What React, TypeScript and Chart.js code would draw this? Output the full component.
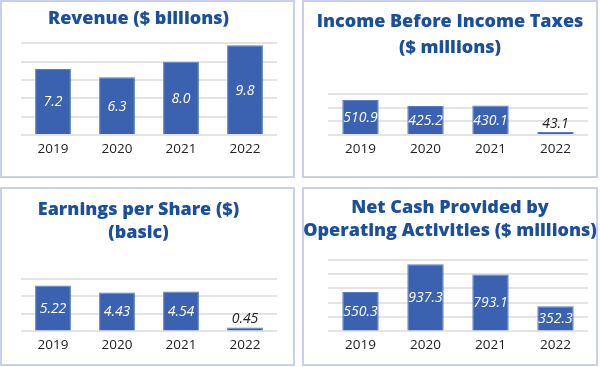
import React, { useEffect, useRef } from "react";
import { Chart, registerables } from "chart.js";

Chart.register(...registerables);

const years = ["2019", "2020", "2021", "2022"];
const revenue = [7.2, 6.3, 8.0, 9.8];
const incomeBeforeTaxes = [510.9, 425.2, 430.1, 43.1];
const eps = [5.22, 4.43, 4.54, 0.45];
const netCash = [550.3, 937.3, 793.1, 352.3];

const titleRevenue = ["Revenue ($ billions)"];
const titleIncome = ["Income Before Income Taxes", "($ millions)"];
const titleEps = ["Earnings per Share ($)", "(basic)"];
const titleCash = ["Net Cash Provided by", "Operating Activities ($ millions)"];

const FONT = "'Open Sans', 'DejaVu Sans', sans-serif";
const BAR = "#3a62b0";
const BAR_EDGE = "#5a7ec6";
const TITLE = "#1a4e9f";

const labelPlugin = {
  id: "barLabels",
  afterDatasetsDraw(chart: any) {
    const decimals = chart.options.plugins.barLabels?.decimals ?? 1;
    const ctx = chart.ctx;
    const meta = chart.getDatasetMeta(0);
    const data = chart.data.datasets[0].data as number[];
    ctx.save();
    ctx.font = `italic 14px ${FONT}`;
    ctx.textAlign = "center";
    meta.data.forEach((el: any, i: number) => {
      const { x, y, base } = el.getProps(["x", "y", "base"], true);
      const h = base - y;
      const txt = Number(data[i]).toFixed(decimals);
      if (h > 18) {
        ctx.fillStyle = "#ffffff";
        ctx.textBaseline = "middle";
        ctx.fillText(txt, x, (y + base) / 2 + 1);
      } else {
        ctx.fillStyle = "#222222";
        ctx.textBaseline = "bottom";
        ctx.fillText(txt, x, y - 1);
      }
    });
    ctx.restore();
  },
};

type PanelCfg = {
  left: number;
  top: number;
  width: number;
  height: number;
  title: string[];
  data: number[];
  max: number;
  step: number;
  decimals: number;
  titleLineHeight: number;
  titleTop: number;
  titleBottom: number;
  padLeft: number;
  padRight: number;
  padBottom: number;
};

function BarPanel({ cfg }: { cfg: PanelCfg }) {
  const ref = useRef<HTMLCanvasElement | null>(null);
  useEffect(() => {
    if (!ref.current) return;
    const chart = new Chart(ref.current, {
      type: "bar",
      data: {
        labels: years,
        datasets: [
          {
            data: cfg.data,
            backgroundColor: BAR,
            borderColor: BAR_EDGE,
            borderWidth: 1,
            categoryPercentage: 1,
            barPercentage: 0.56,
          },
        ],
      },
      options: {
        responsive: false,
        animation: false,
        layout: {
          padding: { left: 0, right: 0, top: 0, bottom: cfg.padBottom },
        },
        plugins: {
          legend: { display: false },
          tooltip: { enabled: false },
          title: {
            display: true,
            text: cfg.title,
            color: TITLE,
            font: { family: FONT, size: 18, weight: "800", lineHeight: cfg.titleLineHeight },
            padding: { top: cfg.titleTop, bottom: cfg.titleBottom },
          },
          barLabels: { decimals: cfg.decimals },
        } as any,
        scales: {
          x: {
            grid: { display: false, drawTicks: false },
            border: { display: false },
            ticks: { color: "#222222", font: { family: FONT, size: 13.5 }, padding: 6 },
          },
          y: {
            min: 0,
            max: cfg.max,
            ticks: { display: false, stepSize: cfg.step },
            grid: { color: "#e4e4e4", lineWidth: 2, drawTicks: false },
            border: { display: false },
            afterFit: (s: any) => {
              s.width = cfg.padLeft;
            },
          },
          yRight: {
            position: "right",
            ticks: { display: false },
            grid: { display: false, drawTicks: false },
            border: { display: false },
            afterFit: (s: any) => {
              s.width = cfg.padRight;
            },
          },
        },
      },
      plugins: [labelPlugin],
    });
    return () => chart.destroy();
  }, [cfg]);
  return (
    <canvas
      ref={ref}
      width={cfg.width}
      height={cfg.height}
      style={{ position: "absolute", left: cfg.left, top: cfg.top, width: cfg.width, height: cfg.height }}
    />
  );
}

const panels: PanelCfg[] = [
  {
    left: 0, top: 0, width: 277, height: 178, title: titleRevenue, data: revenue, max: 10, step: 2, decimals: 1,
    titleLineHeight: 1.2, titleTop: 8.5, titleBottom: 13.2, padLeft: 21, padRight: 0, padBottom: 14.8,
  },
  {
    left: 302, top: 0, width: 296, height: 178, title: titleIncome, data: incomeBeforeTaxes, max: 600, step: 200, decimals: 1,
    titleLineHeight: 1.478, titleTop: 8.4, titleBottom: 32.4, padLeft: 26, padRight: 10, padBottom: 14.8,
  },
  {
    left: 0, top: 187, width: 277, height: 179, title: titleEps, data: eps, max: 6, step: 2, decimals: 2,
    titleLineHeight: 1.294, titleTop: 11.05, titleBottom: 34.05, padLeft: 21, padRight: 0, padBottom: 6.4,
  },
  {
    left: 302, top: 187, width: 296, height: 179, title: titleCash, data: netCash, max: 1000, step: 200, decimals: 1,
    titleLineHeight: 1.294, titleTop: 9.35, titleBottom: 16.75, padLeft: 26, padRight: 10, padBottom: 6.4,
  },
];

const boxes = [
  { left: 0, top: 0, width: 295, height: 178 },
  { left: 302, top: 0, width: 296, height: 178 },
  { left: 0, top: 187, width: 295, height: 179 },
  { left: 302, top: 187, width: 296, height: 179 },
];

export default function App() {
  return (
    <div style={{ position: "fixed", left: 0, top: 0, width: 600, height: 367, background: "#ffffff", overflow: "hidden" }}>
      {boxes.map((b, i) => (
        <div
          key={"b" + i}
          style={{
            position: "absolute",
            left: b.left,
            top: b.top,
            width: b.width,
            height: b.height,
            boxSizing: "border-box",
            border: "2px solid #c9cfee",
          }}
        />
      ))}
      {panels.map((p, i) => (
        <BarPanel key={i} cfg={p} />
      ))}
    </div>
  );
}
